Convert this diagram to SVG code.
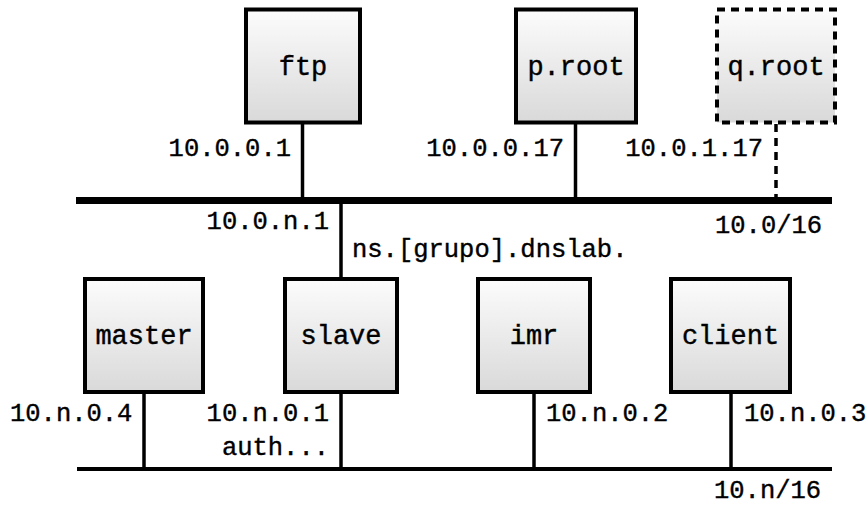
<svg xmlns="http://www.w3.org/2000/svg" width="868" height="506" viewBox="0 0 868 506">
<defs>
<linearGradient id="g" x1="0" y1="0" x2="0" y2="1">
<stop offset="0" stop-color="#fcfcfc"/>
<stop offset="1" stop-color="#d9d9d9"/>
</linearGradient>
<style>
.box{fill:url(#g);stroke:#000;stroke-width:4}
.dash{stroke-dasharray:8 6}
.name{font-family:"Liberation Mono","DejaVu Sans Mono",monospace;font-size:27px;text-anchor:middle;fill:#000;stroke:#000;stroke-width:0.4}
.lbl{font-family:"Liberation Mono","DejaVu Sans Mono",monospace;font-size:25.5px;fill:#000;stroke:#000;stroke-width:0.4}
.end{text-anchor:end}
.wire{stroke:#000;stroke-width:3.5;fill:none}
.bus0{stroke:#000;stroke-width:7}
.bus1{stroke:#000;stroke-width:4}
</style>
</defs>
<rect width="868" height="506" fill="#fff"/>
<g id="connectors">
<line class="bus0" x1="76" y1="200.5" x2="832" y2="200.5"/>
<line class="bus1" x1="77" y1="469" x2="832" y2="469"/>
<line class="wire" x1="302.5" y1="122" x2="302.5" y2="200"/>
<line class="wire" x1="575.5" y1="122" x2="575.5" y2="200"/>
<line class="wire dash" x1="776" y1="124" x2="776" y2="200"/>
<line class="wire" x1="341" y1="200" x2="341" y2="279"/>
<line class="wire" x1="144" y1="392" x2="144" y2="469"/>
<line class="wire" x1="341" y1="392" x2="341" y2="469"/>
<line class="wire" x1="534" y1="392" x2="534" y2="469"/>
<line class="wire" x1="731" y1="392" x2="731" y2="469"/>
</g>
<g id="ftp">
<rect class="box" x="246" y="9.5" width="114" height="113"/>
<text class="name" x="303" y="75">ftp</text>
</g>
<g id="proot">
<rect class="box" x="516" y="9.5" width="120" height="113"/>
<text class="name" x="576" y="75">p.root</text>
</g>
<g id="qroot">
<rect class="box dash" x="717" y="9.5" width="118" height="113"/>
<text class="name" x="776" y="75">q.root</text>
</g>
<g id="master">
<rect class="box" x="85" y="279" width="118" height="113"/>
<text class="name" x="144" y="344">master</text>
</g>
<g id="slave">
<rect class="box" x="285" y="279" width="112" height="113"/>
<text class="name" x="341" y="344">slave</text>
</g>
<g id="imr">
<rect class="box" x="478" y="279" width="112" height="113"/>
<text class="name" x="534" y="344">imr</text>
</g>
<g id="client">
<rect class="box" x="671" y="279" width="119" height="113"/>
<text class="name" x="730.5" y="344">client</text>
</g>
<g id="labels">
<text class="lbl end" x="291" y="156">10.0.0.1</text>
<text class="lbl end" x="564" y="156">10.0.0.17</text>
<text class="lbl end" x="763" y="156">10.0.1.17</text>
<text class="lbl end" x="329" y="229">10.0.n.1</text>
<text class="lbl" x="715" y="233">10.0/16</text>
<text class="lbl" x="352" y="257">ns.[grupo].dnslab.</text>
<text class="lbl" x="10" y="421">10.n.0.4</text>
<text class="lbl end" x="329" y="421">10.n.0.1</text>
<text class="lbl end" x="329" y="455">auth...</text>
<text class="lbl" x="546" y="421">10.n.0.2</text>
<text class="lbl" x="744" y="421">10.n.0.3</text>
<text class="lbl" x="714" y="498">10.n/16</text>
</g>
</svg>
